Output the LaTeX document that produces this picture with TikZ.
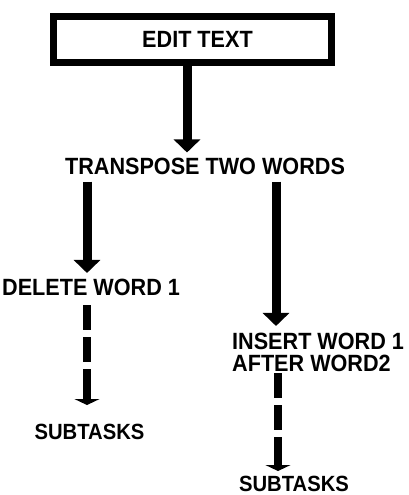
\documentclass[tikz,border=0pt]{standalone}
\usepackage{fontspec}
\setmainfont{Liberation Sans}[FakeStretch=0.92]
\usetikzlibrary{arrows.meta}
\begin{document}
\begin{tikzpicture}[x=1pt,y=-1pt,
  lbl/.style={inner sep=0pt, font=\fontsize{23.5}{22}\selectfont\bfseries},
  sublbl/.style={inner sep=0pt, font=\fontsize{22}{22}\selectfont\bfseries},
  boxnode/.style={draw, line width=7pt, minimum width=278pt, minimum height=46pt, inner sep=0pt,
    font=\fontsize{23.5}{22}\selectfont\bfseries},
  arr/.style={line width=9pt, -{Triangle[width=26pt,length=13pt]}},
  darr/.style={line width=8pt, dash pattern=on 25pt off 7pt on 25pt off 7pt on 60pt,
    -{Triangle[width=25pt,length=6pt]}}]
\useasboundingbox (0,0) rectangle (408,495);
\node[boxnode] (edit) at (192.5,39.5) {\hspace*{10pt}EDIT TEXT};
\node[lbl] (tr) at (205,166) {TRANSPOSE TWO WORDS};
\node[lbl, anchor=west] (del) at (2,287.5) {DELETE WORD 1};
\node[sublbl] (sub1) at (89.5,432) {SUBTASKS};
\node[lbl, anchor=west, align=left] (ins) at (232,352.5) {INSERT WORD 1\\AFTER WORD2};
\node[sublbl] (sub2) at (294,484) {SUBTASKS};
\coordinate (xa) at (187,0);
\coordinate (xl) at (87,0);
\coordinate (xr) at (276,0);
\coordinate (xrd) at (278,0);
\draw[arr, shorten >=5pt] (edit.south -| xa) -- (tr.north -| xa);
\draw[arr, shorten <=7pt, shorten >=6pt] (tr.south -| xl) -- (del.north -| xl);
\draw[arr, shorten <=7pt, shorten >=7pt] (tr.south -| xr) -- (ins.north -| xr);
\draw[darr, shorten <=9pt, shorten >=19pt] (del.south -| xl) -- (sub1.north -| xl);
\draw[darr, shorten <=1pt, shorten >=5pt] (ins.south -| xrd) -- (sub2.north -| xrd);
\end{tikzpicture}
\end{document}
